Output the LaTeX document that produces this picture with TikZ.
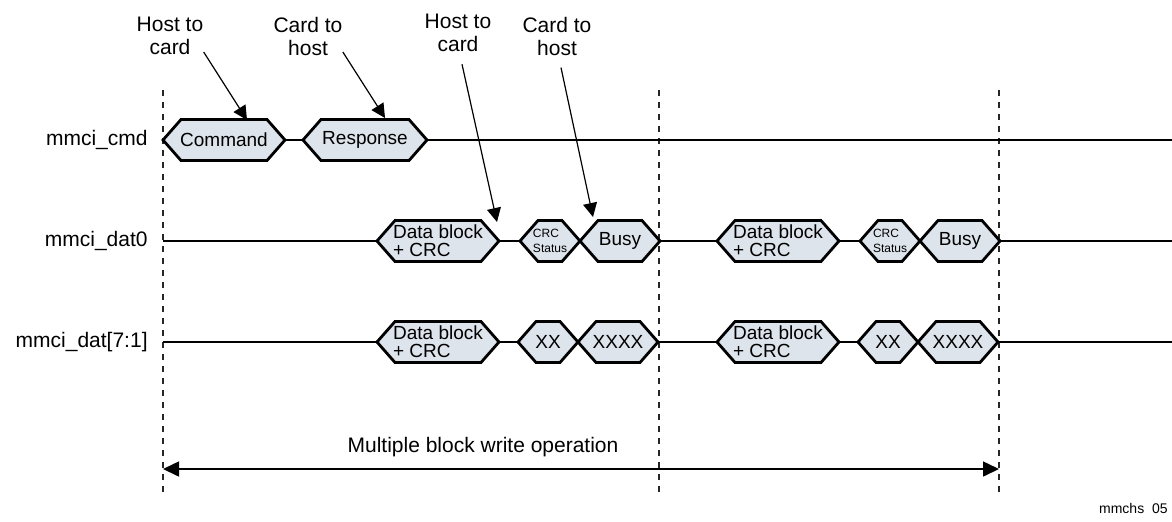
\documentclass[tikz,border=0pt]{standalone}
\usepackage{fontspec}
\setmainfont{Liberation Sans}
\usetikzlibrary{arrows.meta}
\definecolor{hexfill}{RGB}{222,228,236}

% bus value symbol: #1 name, #2 centre, #3 width, #4 text style, #5 text
\newcommand{\busval}[5]{%
  \node[hexcore, minimum width=#3] (#1) at (#2) {};
  \filldraw[hexline] (#1.west) -- ([xshift=9pt]#1.north west) -- ([xshift=-9pt]#1.north east)
    -- (#1.east) -- ([xshift=-9pt]#1.south east) -- ([xshift=9pt]#1.south west) -- cycle;
  \node[#4] (#1t) at (#1.center) {#5};
}

\begin{document}
\begin{tikzpicture}[x=0.5pt, y=-0.5pt, >=latex]

% --- Global TikZ Styles ---
\tikzset{
    hexcore/.style={rectangle, minimum height=20.5pt, inner sep=0pt, outer sep=0pt},
    hexline/.style={draw=black, fill=hexfill, line width=1.4pt, line join=miter},
    hexlabel/.style={inner sep=0pt, align=left, font=\fontsize{9.5}{9}\selectfont},
    tinylabel/.style={inner sep=0pt, align=left, font=\fontsize{6}{7.5}\selectfont},
    sigline/.style={draw=black, line width=1.4pt},
    marker/.style={draw=black!85, line width=0.6pt, dash pattern=on 3pt off 3pt},
    signame/.style={anchor=east, inner sep=0pt, font=\fontsize{10.5}{12}\selectfont},
    note/.style={align=center, inner sep=0pt, font=\fontsize{10.5}{11.5}\selectfont},
    pointer/.style={-{Triangle[length=7pt, width=7pt]}, line width=0.6pt},
    span/.style={{Triangle[length=8pt, width=7.5pt]}-{Triangle[length=8pt, width=7.5pt]},
        line width=0.8pt}
}

\useasboundingbox (0,0) rectangle (1172,521);

% Guide lines
\coordinate (g1t) at (163,90);  \coordinate (g1b) at (163,495);
\coordinate (g2t) at (659,90);  \coordinate (g2b) at (659,495);
\coordinate (g3t) at (999,90);  \coordinate (g3b) at (999,495);
\draw[marker] (g1t) -- (g1b);
\draw[marker] (g2t) -- (g2b);
\draw[marker] (g3t) -- (g3b);

% mmci_cmd
\node[signame] (ncmd) at (148,140) {mmci\_cmd};
\busval{cmd}{224,140}{61pt}{hexlabel}{Command}
\busval{rsp}{365,140}{62pt}{hexlabel}{Response}
\coordinate (cmdend) at (1172,140);
\draw[sigline] (cmd.east) -- (rsp.west);
\draw[sigline] (rsp.east) -- (cmdend);

% mmci_dat0
\node[signame] (ndat0) at (148,241) {mmci\_dat0};
\coordinate (dat0beg) at (163,241);
\coordinate (dat0end) at (1172,241);
\busval{d0a}{438,241}{61pt}{hexlabel}{Data block\\+ CRC}
\busval{c0a}{550,241}{30pt}{tinylabel}{CRC\\Status}
\busval{b0a}{620,241}{40pt}{hexlabel}{Busy}
\busval{d0b}{778,241}{61pt}{hexlabel}{Data block\\+ CRC}
\busval{c0b}{890,241}{30pt}{tinylabel}{CRC\\Status}
\busval{b0b}{960,241}{40pt}{hexlabel}{Busy}
\draw[sigline] (dat0beg) -- (d0a.west);
\draw[sigline] (d0a.east) -- (c0a.west);
\draw[sigline] (b0a.east) -- (d0b.west);
\draw[sigline] (d0b.east) -- (c0b.west);
\draw[sigline] (b0b.east) -- (dat0end);

% mmci_dat[7:1]
\node[signame] (ndat7) at (148,342) {mmci\_dat[7:1]};
\coordinate (dat7beg) at (163,342);
\coordinate (dat7end) at (1172,342);
\busval{d7a}{438,342}{61pt}{hexlabel}{Data block\\+ CRC}
\busval{x7a}{548,342}{30pt}{hexlabel}{XX}
\busval{w7a}{618,342}{40pt}{hexlabel}{XXXX}
\busval{d7b}{778,342}{61pt}{hexlabel}{Data block\\+ CRC}
\busval{x7b}{888,342}{30pt}{hexlabel}{XX}
\busval{w7b}{958,342}{40pt}{hexlabel}{XXXX}
\draw[sigline] (dat7beg) -- (d7a.west);
\draw[sigline] (d7a.east) -- (x7a.west);
\draw[sigline] (w7a.east) -- (d7b.west);
\draw[sigline] (d7b.east) -- (x7b.west);
\draw[sigline] (w7b.east) -- (dat7end);

% Direction notes
\node[note] (ann1) at (170,36) {Host to\\card};
\node[note] (ann2) at (308,36) {Card to\\host};
\node[note] (ann3) at (458,33) {Host to\\card};
\node[note] (ann4) at (557,36) {Card to\\host};
\coordinate (tip1) at (247,120);
\coordinate (tip2) at (385,118);
\coordinate (tip3) at (497,222);
\coordinate (tip4) at (593,217);
\draw[pointer] ([yshift=-8pt]ann1.east) -- (tip1);
\draw[pointer] ([yshift=-8pt]ann2.east) -- (tip2);
\draw[pointer] ([xshift=2pt, yshift=-6pt]ann3.south) -- (tip3);
\draw[pointer] ([xshift=2pt, yshift=-6pt]ann4.south) -- (tip4);

% Operation span
\coordinate (opl) at (163,469);
\coordinate (opr) at (999,469);
\draw[span] (opl) -- (opr);
\node[note] (opname) at (483,447) {Multiple block write operation};

% Figure id
\node[anchor=east, inner sep=0pt, font=\fontsize{7}{8}\selectfont] (figid) at (1168,508) {mmchs\ \ 05};

\end{tikzpicture}
\end{document}
